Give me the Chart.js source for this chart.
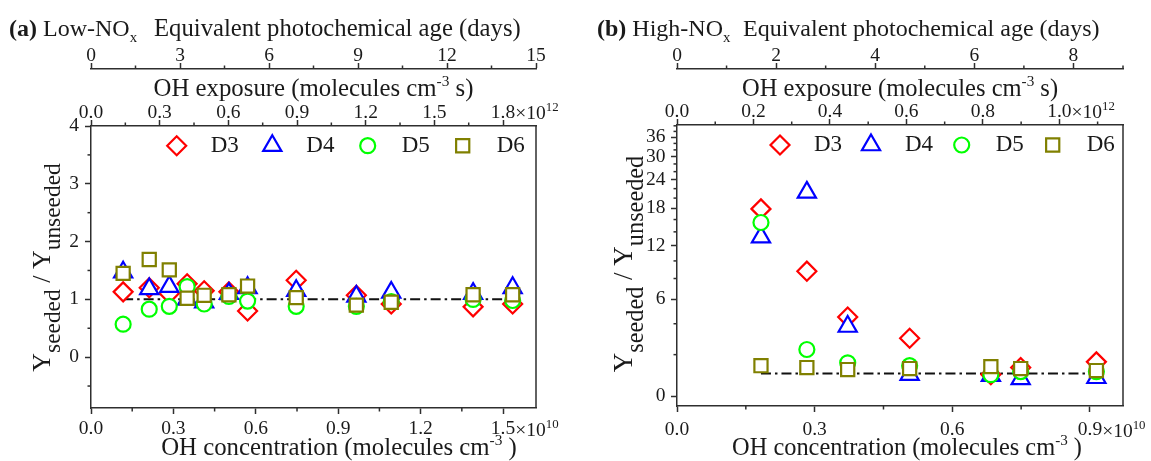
<!DOCTYPE html>
<html>
<head>
<meta charset="utf-8">
<script src="https://cdn.jsdelivr.net/npm/chart.js@4.4.1/dist/chart.umd.min.js"></script>
<style>
  html, body { margin: 0; padding: 0; background: #fff; }
  #wrap { position: relative; width: 1151px; height: 461px; overflow: hidden; }
  canvas { position: absolute; top: 0; }
  #cLow  { left: 0; }
  #cHigh { left: 580px; }
</style>
</head>
<body>
<div id="wrap">
  <canvas id="cLow" width="580" height="461"></canvas>
  <canvas id="cHigh" width="571" height="461"></canvas>
</div>
<script>
// ── data: panel (a) low-NOx ─────────────────────────────────────
const lowOH = [0.117, 0.212, 0.285, 0.350, 0.412, 0.502, 0.570, 0.747, 0.966, 1.093, 1.391, 1.535]; // ×1e10
const lowD3 = [1.13, 1.20, 1.10, 1.27, 1.15, 1.13, 0.80, 1.33, 1.07, 0.92, 0.87, 0.92];
const lowD4 = [1.47, 1.18, 1.22, 1.00, 0.95, 1.10, 1.20, 1.15, 1.05, 1.12, 1.10, 1.20];
const lowD5 = [0.57, 0.83, 0.88, 1.22, 0.92, 1.05, 0.97, 0.88, 0.88, 0.96, 1.00, 0.98];
const lowD6 = [1.45, 1.69, 1.51, 1.02, 1.07, 1.08, 1.23, 1.03, 0.90, 0.95, 1.08, 1.08];

// ── data: panel (b) high-NOx ────────────────────────────────────
const highOH = [0.183, 0.283, 0.372, 0.507, 0.684, 0.749, 0.914]; // ×1e10
const highD3 = [17.9, 8.8, 4.5, 3.0, 0.95, 1.3, 1.6];
const highD4 = [13.2, 21.2, 3.8, 0.95, 0.9, 0.75, 0.8];
const highD5 = [15.5, 2.3, 1.55, 1.4, 0.95, 1.1, 1.1];
const highD6 = [1.4, 1.3, 1.2, 1.25, 1.35, 1.25, 1.15];

const refY = 1; // dash-dot reference Y_seeded / Y_unseeded = 1

// ── axis ticks ──────────────────────────────────────────────────
const lowConcTicks  = [0, 0.3, 0.6, 0.9, 1.2, 1.5];
const lowConcMinor  = [0.15, 0.45, 0.75, 1.05, 1.35];
const lowExpTicks   = [0, 0.3, 0.6, 0.9, 1.2, 1.5, 1.8];
const lowExpMinor   = [0.15, 0.45, 0.75, 1.05, 1.35, 1.65];
const lowAgeTicks   = [0, 3, 6, 9, 12, 15];
const lowAgeMinor   = [1.5, 4.5, 7.5, 10.5, 13.5];
const lowYTicks     = [0, 1, 2, 3, 4];
const lowYMinor     = [-0.5, 0.5, 1.5, 2.5, 3.5];

const highConcTicks = [0, 0.3, 0.6, 0.9];
const highConcMinor = [0.15, 0.45, 0.75];
const highExpTicks  = [0, 0.2, 0.4, 0.6, 0.8, 1.0];
const highExpMinor  = [0.1, 0.3, 0.5, 0.7, 0.9, 1.1];
const highAgeTicks  = [0, 2, 4, 6, 8];
const highAgeMinor  = [1, 3, 5, 7, 9];
const highYTicks    = [0, 6, 12, 18, 24, 30, 36];
const highYMinor    = [2, 4, 8, 10, 14, 16, 20, 22, 26, 28, 32, 34, 38, 40];

// ── styling ─────────────────────────────────────────────────────
const SERIF = '"Liberation Serif", "Times New Roman", serif';
Chart.defaults.font.family = SERIF;
Chart.defaults.color = "#1a1a1a";

const AXIS = "#2e2e2e";
const TL = 6;
const TICK_SIZE = 19.5;
const TICK_FONT = { size: TICK_SIZE, lineHeight: 1 };

const SERIES = [
  { label: "D3", color: "#ff0000", style: "rectRot",  r: 9.5 },
  { label: "D4", color: "#0000ff", style: "triangle", r: 10.5 },
  { label: "D5", color: "#00ff00", style: "circle",   r: 7.5 },
  { label: "D6", color: "#808000", style: "rect",     r: 9.3 },
];

// y-axis of panel (b): log(y + 5) stretch, like the original plot
const Y_OFFSET = 5;
class OffsetLogScale extends Chart.LinearScale {
  getPixelForValue(v) {
    if (v === null || isNaN(v)) return NaN;
    const lo = Math.log(this.min + Y_OFFSET), hi = Math.log(this.max + Y_OFFSET);
    return this.getPixelForDecimal((Math.log(v + Y_OFFSET) - lo) / (hi - lo));
  }
  getValueForPixel(px) {
    const lo = Math.log(this.min + Y_OFFSET), hi = Math.log(this.max + Y_OFFSET);
    return Math.exp(lo + this.getDecimalForPixel(px) * (hi - lo)) - Y_OFFSET;
  }
}
OffsetLogScale.id = "offsetLog";
OffsetLogScale.defaults = Chart.LinearScale.defaults;
Chart.register(OffsetLogScale);

// ── helpers ─────────────────────────────────────────────────────
function rich(ctx, parts, x, y, size, align, scale = 0.62, subDy = 0.22, supDy = 0.42) {
  const fontFor = st => `${st === "b" ? "bold " : ""}${st === "sub" || st === "sup" ? size * scale : size}px ${SERIF}`;
  let w = 0;
  for (const [t, st] of parts) { ctx.font = fontFor(st); w += ctx.measureText(t).width; }
  let cx = align === "center" ? x - w / 2 : x;
  ctx.textAlign = "left";
  ctx.textBaseline = "alphabetic";
  for (const [t, st] of parts) {
    ctx.font = fontFor(st);
    const dy = st === "sub" ? size * subDy : st === "sup" ? -size * supDy : 0;
    ctx.fillText(t, cx, y + dy);
    cx += ctx.measureText(t).width;
  }
}

function makeDatasets(xs, ys) {
  const ds = SERIES.map((s, i) => ({
    label: s.label,
    data: xs.map((x, j) => ({ x, y: ys[i][j] })),
    pointStyle: s.style,
    pointRadius: s.r,
    pointBorderWidth: 2.2,
    borderColor: s.color,
    backgroundColor: "#fff",
    order: 4 - i,            // later series drawn on top
  }));
  ds.push({
    label: "",
    data: [{ x: xs[0], y: refY }, { x: xs[xs.length - 1], y: refY }],
    showLine: true,
    pointRadius: 0,
    borderColor: "#111",
    borderWidth: 2,
    borderDash: [10, 4, 2.5, 4],
    order: 10,
  });
  return ds;
}

function hAxis(pos, min, max, ticks, height, pad, weight, fmt) {
  return {
    type: "linear", position: pos, min, max, weight,
    afterBuildTicks: s => { s.ticks = ticks.map(v => ({ value: v })); },
    afterFit: s => { s.height = height; },
    ticks: { font: TICK_FONT, padding: pad, maxRotation: 0, autoSkip: false, callback: fmt },
    grid: { display: true, drawOnChartArea: false, drawTicks: true, tickLength: TL, tickWidth: 1.5, tickColor: AXIS },
    border: { display: true, color: AXIS, width: 1.5 },
  };
}

function vAxis(type, min, max, ticks, width, pad) {
  return {
    type, position: "left", min, max,
    afterBuildTicks: s => { s.ticks = ticks.map(v => ({ value: v })); },
    afterFit: s => { s.width = width; },
    ticks: { font: TICK_FONT, padding: pad, autoSkip: false, callback: v => String(v) },
    grid: { display: true, drawOnChartArea: false, drawTicks: true, tickLength: TL, tickWidth: 1.5, tickColor: AXIS },
    border: { display: true, color: AXIS, width: 1.5 },
  };
}

const dec1 = v => v.toFixed(1);
const int0 = v => String(v);

// frame, minor ticks, ×10^n suffixes, legend and rich-text titles
function deco(cfg) {
  return {
    id: "deco",
    afterDraw(chart) {
      const ctx = chart.ctx, a = chart.chartArea;
      ctx.save();
      ctx.strokeStyle = AXIS;
      ctx.lineWidth = 1.5;
      ctx.beginPath();
      ctx.moveTo(a.right, a.top);
      ctx.lineTo(a.right, a.bottom);
      ctx.stroke();

      for (const [id, minors] of Object.entries(cfg.minor)) {
        const s = chart.scales[id];
        minors.forEach(v => {
          const p = s.getPixelForValue(v);
          ctx.beginPath();
          if (s.position === "left") { ctx.moveTo(s.right, p); ctx.lineTo(s.right - 3.5, p); }
          else if (s.position === "bottom") { ctx.moveTo(p, s.top); ctx.lineTo(p, s.top + 3.5); }
          else { ctx.moveTo(p, s.bottom); ctx.lineTo(p, s.bottom - 3.5); }
          ctx.stroke();
        });
      }

      ctx.fillStyle = "#1a1a1a";
      cfg.suffix.forEach(sf => {
        const s = chart.scales[sf.id];
        const p = s.getPixelForValue(sf.value);
        ctx.font = `${TICK_SIZE}px ${SERIF}`;
        const half = ctx.measureText(dec1(sf.value)).width / 2;
        const yc = s.position === "bottom"
          ? s.top + TL + sf.pad + TICK_SIZE / 2
          : s.bottom - TL - sf.pad - TICK_SIZE / 2;
        rich(ctx, [["×10", ""], [sf.exp, "sup"]], p + half, yc + 0.34 * TICK_SIZE, TICK_SIZE, "left", 0.66, 0, 0.42);
      });

      const items = chart.data.datasets.filter(d => d.label);
      items.forEach((d, i) => {
        const mx = cfg.legend.x[i], my = cfg.legend.y;
        ctx.strokeStyle = d.borderColor;
        ctx.fillStyle = "#fff";
        ctx.lineWidth = d.pointBorderWidth;
        Chart.helpers.drawPoint(ctx, { pointStyle: d.pointStyle, radius: d.pointRadius, rotation: 0, borderWidth: d.pointBorderWidth }, mx, my);
        ctx.fillStyle = "#1a1a1a";
        ctx.font = `${cfg.legend.size}px ${SERIF}`;
        ctx.textAlign = "left";
        ctx.textBaseline = "middle";
        ctx.fillText(d.label, mx + 34, my);
      });

      ctx.fillStyle = "#1a1a1a";
      rich(ctx, cfg.header, cfg.headerX, 36, 24, "left", 0.62, 0.25);
      rich(ctx, [["Equivalent photochemical age (days)", ""]], cfg.ageX, 36, cfg.ageSize, "left");
      rich(ctx, [["OH exposure (molecules cm", ""], ["-3", "sup"], [" s)", ""]],
           (a.left + a.right) / 2, 96, cfg.expSize, "center");
      rich(ctx, [["OH concentration (molecules cm", ""], ["-3", "sup"], [" )", ""]],
           cfg.concX, 455, cfg.concSize, "center");

      ctx.translate(cfg.yTitle.x, cfg.yTitle.y);
      ctx.rotate(-Math.PI / 2);
      rich(ctx, [["Y", ""], ["seeded", "sub"], [" / Y", ""], ["unseeded", "sub"]],
           0, 0, cfg.yTitle.size, "center", 0.9, 0.4);
      ctx.restore();
    },
  };
}

function makeChart(id, o) {
  return new Chart(document.getElementById(id), {
    type: "scatter",
    data: { datasets: makeDatasets(o.xs, o.ys) },
    options: {
      responsive: false,
      animation: false,
      events: [],
      layout: { padding: { left: 0, right: o.padRight, top: 0, bottom: 0 } },
      plugins: { legend: { display: false }, tooltip: { enabled: false } },
      scales: {
        x:    hAxis("bottom", 0, o.concMax, o.concTicks, o.bottomH, o.bottomPad, 0, dec1),
        xExp: hAxis("top",    0, o.expMax,  o.expTicks,  o.expH,    -2.5, 0, dec1),
        xAge: hAxis("top",    0, o.ageMax,  o.ageTicks,  69,        -2.5, 10, int0),
        y:    vAxis(o.yType, o.yMin, o.yMax, o.yTicks, o.yWidth, o.yPad),
      },
    },
    plugins: [deco(o.deco)],
  });
}

// ── panel (a) ───────────────────────────────────────────────────
makeChart("cLow", {
  xs: lowOH, ys: [lowD3, lowD4, lowD5, lowD6],
  concMax: 1.62, concTicks: lowConcTicks, bottomH: 53, bottomPad: 5.5,
  expMax: 1.944, expTicks: lowExpTicks, expH: 57,
  ageMax: 15, ageTicks: lowAgeTicks,
  yType: "linear", yMin: -0.88, yMax: 4, yTicks: lowYTicks, yWidth: 91, yPad: 6,
  padRight: 44,
  deco: {
    minor: { x: lowConcMinor, xExp: lowExpMinor, xAge: lowAgeMinor, y: lowYMinor },
    suffix: [{ id: "x", value: 1.5, exp: "10", pad: 5.5 }, { id: "xExp", value: 1.8, exp: "12", pad: -2.5 }],
    legend: { x: [176.7, 272.3, 367.7, 462.7], y: 145.7, size: 23 },
    header: [["(a)", "b"], [" Low-NO", ""], ["x", "sub"]],
    headerX: 9, ageX: 154, ageSize: 24.7,
    expSize: 24.8, concSize: 24.8,
    concX: 339,
    yTitle: { x: 50, y: 267.5, size: 26 },
  },
});

// ── panel (b) ───────────────────────────────────────────────────
makeChart("cHigh", {
  xs: highOH, ys: [highD3, highD4, highD5, highD6],
  concMax: 0.972, concTicks: highConcTicks, bottomH: 55, bottomPad: 8.5,
  expMax: 1.1664, expTicks: highExpTicks, expH: 56,
  ageMax: 9, ageTicks: highAgeTicks,
  yType: "offsetLog", yMin: -0.39, yMax: 40.3, yTicks: highYTicks, yWidth: 97, yPad: 5.5,
  padRight: 28,
  deco: {
    minor: { x: highConcMinor, xExp: highExpMinor, xAge: highAgeMinor, y: highYMinor },
    suffix: [{ id: "x", value: 0.9, exp: "10", pad: 8.5 }, { id: "xExp", value: 1.0, exp: "12", pad: -2.5 }],
    legend: { x: [200, 291, 381.7, 472.7], y: 145, size: 23 },
    header: [["(b)", "b"], [" High-NO", ""], ["x", "sub"]],
    headerX: 17, ageX: 163, ageSize: 24,
    expSize: 24.5, concSize: 24.4,
    concX: 327,
    yTitle: { x: 51.7, y: 264, size: 27 },
  },
});
</script>
</body>
</html>
